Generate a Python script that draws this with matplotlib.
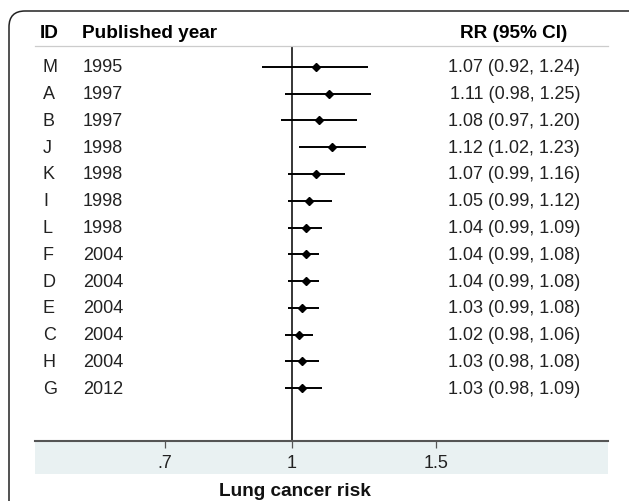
import numpy as np
import matplotlib
matplotlib.use('Agg')
import matplotlib.pyplot as plt
from matplotlib.patches import FancyBboxPatch, Rectangle
from matplotlib.transforms import IdentityTransform

plt.rcParams['font.family'] = ['Liberation Sans', 'DejaVu Sans']

# study data
ids = ['M', 'A', 'B', 'J', 'K', 'I', 'L', 'F', 'D', 'E', 'C', 'H', 'G']
years = ['1995', '1997', '1997', '1998', '1998', '1998', '1998',
         '2004', '2004', '2004', '2004', '2004', '2012']
rr = [1.07, 1.11, 1.08, 1.12, 1.07, 1.05, 1.04, 1.04, 1.04, 1.03, 1.02, 1.03, 1.03]
lo = [0.92, 0.98, 0.97, 1.02, 0.99, 0.99, 0.99, 0.99, 0.99, 0.99, 0.98, 0.98, 0.98]
hi = [1.24, 1.25, 1.20, 1.23, 1.16, 1.12, 1.09, 1.08, 1.08, 1.08, 1.06, 1.08, 1.09]
xticks = [0.7, 1, 1.5]
xticklabels = ['.7', '1', '1.5']

W, H = 629, 502
fig = plt.figure(figsize=(W / 100, H / 100), dpi=100)

# outer rounded frame (runs off right and bottom edge)
frame = FancyBboxPatch((9, -40), 680, H - 12 + 40, boxstyle='round,pad=0,rounding_size=16',
                       transform=IdentityTransform(), fc='white', ec='#222222', lw=1.1,
                       zorder=-2)
fig.patches.append(frame)

ax_l, ax_r, ax_t, ax_b = 35, 608, 47, 441.7
ax = fig.add_axes([ax_l / W, 1 - ax_b / H, (ax_r - ax_l) / W, (ax_b - ax_t) / H])
ax.patch.set_alpha(0)

# light band under the axis
band = Rectangle((ax_l / W, 1 - 475 / H), (ax_r - ax_l) / W, (475 - ax_b) / H,
                 transform=fig.transFigure, fc='#e9f1f2', ec='none', zorder=-1)
fig.patches.append(band)

ax.set_xscale('log')
ax.set_xlim(0.4867, 2.428)
ax.set_ylim(13.97, -0.785)

y = np.arange(len(ids))
ax.hlines(y, lo, hi, color='black', lw=1.4, zorder=3)
ax.plot(rr, y, 'D', color='black', ms=4, zorder=4)
ax.axvline(1, color='black', lw=1.1, zorder=2)

for s in ['top', 'left', 'right']:
    ax.spines[s].set_visible(False)
ax.spines['bottom'].set_color('#555555')
ax.spines['bottom'].set_linewidth(1.5)
ax.set_yticks([])
ax.set_xticks(xticks)
ax.set_xticklabels(xticklabels)
ax.xaxis.set_minor_locator(matplotlib.ticker.NullLocator())
ax.tick_params(axis='x', length=5, width=0.9, color='#555555', pad=4.5,
               labelsize=13, labelcolor='#222222')

tr = ax.get_yaxis_transform()
fx = lambda px: (px - ax_l) / (ax_r - ax_l)
fs = 13
hfs = 13.7

# header
hy = (34 - 68) / 26.75
ax.text(fx(40), hy, 'ID', transform=tr, ha='left', va='center', fontsize=hfs,
        fontweight='bold', clip_on=False)
ax.text(fx(82), hy, 'Published year', transform=tr, ha='left', va='center',
        fontsize=hfs, fontweight='bold', clip_on=False)
ax.text(fx(567), hy, 'RR (95% CI)', transform=tr, ha='right', va='center',
        fontsize=hfs, fontweight='bold', clip_on=False)
ax.plot([0, 1], [1, 1], transform=ax.transAxes, color='#cccccc', lw=0.9,
        clip_on=False)

for i in range(len(ids)):
    ax.text(fx(43), i, ids[i], transform=tr, ha='left', va='center', fontsize=fs,
            color='#222222')
    ax.text(fx(83), i, years[i], transform=tr, ha='left', va='center', fontsize=fs,
            color='#222222')
    ax.text(fx(580), i, '%.2f (%.2f, %.2f)' % (rr[i], lo[i], hi[i]), transform=tr,
            ha='right', va='center', fontsize=fs, color='#222222')

fig.text(295 / W, 1 - 492 / H, 'Lung cancer risk', ha='center', va='center',
         fontsize=13.7, fontweight='bold', color='#111111')

fig.savefig('out.png', dpi=100)
